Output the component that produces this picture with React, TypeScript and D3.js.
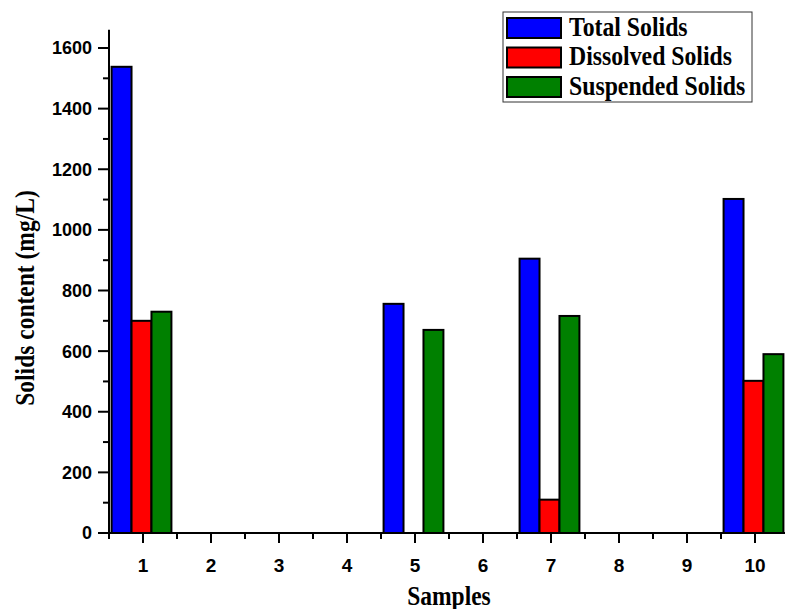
import React from "react";
import * as d3 from "d3";

const samples = [1, 2, 3, 4, 5, 6, 7, 8, 9, 10];
const totalSolids = [1538, 0, 0, 0, 756, 0, 905, 0, 0, 1102];
const dissolvedSolids = [700, 0, 0, 0, 0, 0, 110, 0, 0, 502];
const suspendedSolids = [730, 0, 0, 0, 670, 0, 716, 0, 0, 590];
const seriesNames = ["Total Solids", "Dissolved Solids", "Suspended Solids"];
const seriesColors = ["#0000FF", "#FF0000", "#008000"];
const yTicks = [0, 200, 400, 600, 800, 1000, 1200, 1400, 1600];
const yMinorTicks = [100, 300, 500, 700, 900, 1100, 1300, 1500];
const xMinorTicks = [0.5, 1.5, 2.5, 3.5, 4.5, 5.5, 6.5, 7.5, 8.5, 9.5, 10.5];

export default function App() {
  const W = 785, H = 609;
  const x = d3.scaleLinear().domain([0.5, 10.5]).range([109, 789]);
  const y = d3.scaleLinear().domain([0, 1600]).range([533, 48]);
  const yTop = y(1660);
  const series = [totalSolids, dissolvedSolids, suspendedSolids];
  const bw = x(1) - x(0.5);
  const barW = (bw * 2 * 0.88) / 3;
  const serif = "'Liberation Serif', 'Times New Roman', serif";
  const sans = "'Liberation Sans', Arial, sans-serif";

  return (
    <svg width={W} height={H} style={{ position: "absolute", left: 0, top: 0, background: "#fff" }}>
      {/* bars */}
      {series.map((vals, si) =>
        vals.map((v, i) =>
          v > 0 ? (
            <rect
              key={`${si}-${i}`}
              x={x(samples[i]) - 1.5 * barW + si * barW - 1.5}
              y={y(v)}
              width={barW}
              height={y(0) - y(v)}
              fill={seriesColors[si]}
              stroke="#000"
              strokeWidth={2}
            />
          ) : null
        )
      )}
      {/* y axis */}
      <line x1={109} x2={109} y1={yTop} y2={534} stroke="#000" strokeWidth={2} />
      {yTicks.map((t) => (
        <g key={t}>
          <line x1={98} x2={109} y1={y(t)} y2={y(t)} stroke="#000" strokeWidth={2} />
          <text x={92} y={y(t)} dy="0.36em" textAnchor="end" fontFamily={sans} fontWeight="bold" fontSize={18}>
            {t}
          </text>
        </g>
      ))}
      {yMinorTicks.map((t) => (
        <line key={t} x1={103} x2={109} y1={y(t)} y2={y(t)} stroke="#000" strokeWidth={2} />
      ))}
      {/* x axis */}
      <line x1={108} x2={789} y1={533} y2={533} stroke="#000" strokeWidth={2} />
      {samples.map((s) => (
        <g key={s}>
          <line x1={x(s)} x2={x(s)} y1={533} y2={543} stroke="#000" strokeWidth={2} />
          <text x={x(s)} y={572} textAnchor="middle" fontFamily={sans} fontWeight="bold" fontSize={19}>
            {s}
          </text>
        </g>
      ))}
      {xMinorTicks.map((t) => (
        <line key={t} x1={x(t)} x2={x(t)} y1={533} y2={539} stroke="#000" strokeWidth={2} />
      ))}
      {/* axis titles */}
      <g transform="translate(449,605) scale(0.87,1)">
        <text x={0} y={0} textAnchor="middle" fontFamily={serif} fontWeight="bold" fontSize={27}>
          Samples
        </text>
      </g>
      <g transform="translate(34,298) rotate(-90) scale(0.84,1)">
        <text x={0} y={0} textAnchor="middle" fontFamily={serif} fontWeight="bold" fontSize={28}>
          Solids content (mg/L)
        </text>
      </g>
      {/* legend */}
      <rect x={503} y={12} width={249} height={90} fill="#fff" stroke="#333" strokeWidth={1} />
      {seriesNames.map((n, i) => (
        <g key={n}>
          <rect x={507} y={18 + i * 29.5} width={54} height={20} fill={seriesColors[i]} stroke="#000" strokeWidth={2} />
          <g transform={`translate(569,${35.5 + i * 29.5}) scale(0.88,1)`}>
            <text x={0} y={0} fontFamily={serif} fontWeight="bold" fontSize={27}>
              {n}
            </text>
          </g>
        </g>
      ))}
    </svg>
  );
}
